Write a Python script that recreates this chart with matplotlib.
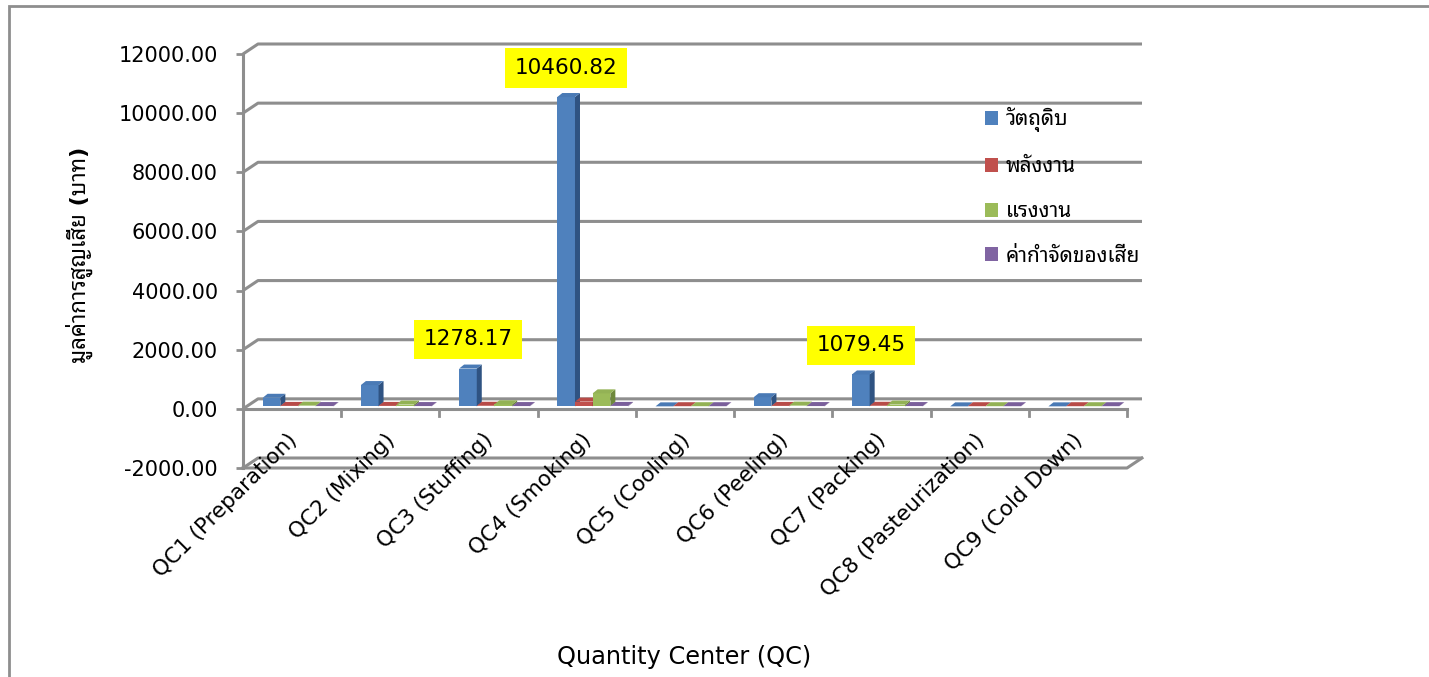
import matplotlib
matplotlib.use("Agg")
import matplotlib.pyplot as plt
from matplotlib.patches import Polygon, Rectangle, Patch
from matplotlib.transforms import ScaledTranslation

categories = ["QC1 (Preparation)", "QC2 (Mixing)", "QC3 (Stuffing)", "QC4 (Smoking)",
              "QC5 (Cooling)", "QC6 (Peeling)", "QC7 (Packing)", "QC8 (Pasteurization)",
              "QC9 (Cold Down)"]
series_names = ["วัตถุดิบ", "พลังงาน", "แรงงาน", "ค่ากำจัดของเสีย"]
raw_material = [290, 720, 1278.17, 10460.82, 0, 310, 1079.45, 0, 0]
energy = [15, 15, 20, 160, 5, 15, 20, 5, 5]
labour = [25, 60, 70, 440, 5, 25, 60, 5, 5]
waste = [10, 10, 10, 15, 5, 10, 10, 5, 5]
labelled = [2, 3, 6]
yticks = [-2000, 0, 2000, 4000, 6000, 8000, 10000, 12000]

values = [raw_material, energy, labour, waste]
front = ["#4F81BD", "#C0504D", "#9BBB59", "#8064A2"]
topc = ["#4A7AB5", "#B84B48", "#93B255", "#7A5F9B"]
side = ["#2F5382", "#8A3533", "#6E883C", "#5A4676"]

W, H, DPI = 1429, 677, 100
fig = plt.figure(figsize=(W / DPI, H / DPI), dpi=DPI)
fig.patch.set_facecolor("white")

# front plane of the 3-D box, in pixels
x0, x1 = 243, 1127
ytop, ybot = 54, 468
ax = fig.add_axes([x0 / W, 1 - ybot / H, (x1 - x0) / W, (ybot - ytop) / H])
ax.set_xlim(0, 9)
ax.set_ylim(-2000, 12000)
ax.patch.set_visible(False)
for s in ["top", "right", "bottom"]:
    ax.spines[s].set_visible(False)
grey = "#8E8E8E"
ax.spines["left"].set_color(grey)
ax.spines["left"].set_linewidth(2.2)
ax.set_xticks([])
ax.set_yticks(yticks)
ax.set_yticklabels([f"{v:.2f}" for v in yticks], fontsize=15, family="DejaVu Sans")
ax.tick_params(axis="y", length=5, width=2, color=grey, pad=13)

px_x = 9 / (x1 - x0)           # data units per pixel
px_y = 14000 / (ybot - ytop)
bx, by = 15 * px_x, 10 * px_y  # depth of the box (back wall offset)

# back wall gridlines + left wall diagonals
for v in yticks:
    ax.plot([0, bx, 9 + bx], [v, v + by, v + by], color=grey, lw=2.2,
            solid_capstyle="butt", clip_on=False, zorder=1)
# floor at the axis minimum
ax.plot([bx + 9, 9, 0], [-2000 + by, -2000, -2000], color=grey, lw=2.2, clip_on=False, zorder=1)
# category axis at zero with boundary ticks
ax.plot([0, 9], [0, 0], color=grey, lw=2.2, clip_on=False, zorder=5)
for i in range(1, 10):
    ax.plot([i, i], [0, -7 * px_y], color=grey, lw=2, clip_on=False, zorder=5)

# 3-D columns
lift = ScaledTranslation(0, 2.5 / DPI, fig.dpi_scale_trans)
btrans = ax.transData + lift
bw, start = 0.18, 0.20
dx, dy = 5 * px_x, 4 * px_y
for j, vals in enumerate(values):
    xs = [i + start + j * bw for i in range(len(categories))]
    ax.bar(xs, vals, width=bw, align="edge", color=front[j], lw=0,
           transform=btrans, zorder=3 + 0.01 * j)
    for xl, v in zip(xs, vals):
        xr = xl + bw
        top = Polygon([(xl, v), (xr, v), (xr + dx, v + dy), (xl + dx, v + dy)],
                      closed=True, fc=topc[j], ec="none", transform=btrans, zorder=3 + 0.01 * j)
        sd = Polygon([(xr, 0), (xr, v), (xr + dx, v + dy), (xr + dx, dy)],
                     closed=True, fc=side[j], ec="none", transform=btrans, zorder=3 + 0.01 * j)
        ax.add_patch(sd)
        ax.add_patch(top)

# value callouts on selected raw-material columns
for i in labelled:
    v = raw_material[i]
    ax.annotate(f"{v:.2f}", xy=(i + start + bw / 2, v), xycoords=btrans,
                xytext=(0, 21), textcoords="offset points", ha="center", va="center",
                fontsize=15.5, family="DejaVu Sans", zorder=10,
                bbox=dict(boxstyle="square,pad=0.45", fc="#FFFF00", ec="none"))

# rotated category labels under the zero line
for i, name in enumerate(categories):
    ax.annotate(name, xy=(i + 0.5, 0), xytext=(1, -20), textcoords="offset points",
                rotation=45, rotation_mode="anchor", ha="right", va="center",
                fontsize=15.5, family="DejaVu Sans", annotation_clip=False)

thai = ["DejaVu Sans", "Noto Sans Thai Looped"]
fig.text(684 / W, 1 - 657 / H, "Quantity Center (QC)", ha="center", va="center",
         fontsize=17.3, family="DejaVu Sans")
fig.text(79 / W, 1 - 255 / H, "มูลค่าการสูญเสีย (บาท)", rotation=90, ha="center",
         va="center", fontsize=16, fontweight="bold", family=thai)

handles = [Patch(fc=c, ec="none") for c in front]
leg = fig.legend(handles, series_names, loc="upper left", bbox_to_anchor=(966 / W, 1 - 88 / H),
                 frameon=False, handlelength=0.65, handleheight=0.65, handletextpad=0.35,
                 labelspacing=1.18, prop=dict(family=thai, size=15))

# chart-area border
fig.add_artist(Rectangle((9 / W, -0.1), 1.2, 1 - 6 / H + 0.1, transform=fig.transFigure,
                         fill=False, ec=grey, lw=2))

fig.savefig("out.png", dpi=DPI)
